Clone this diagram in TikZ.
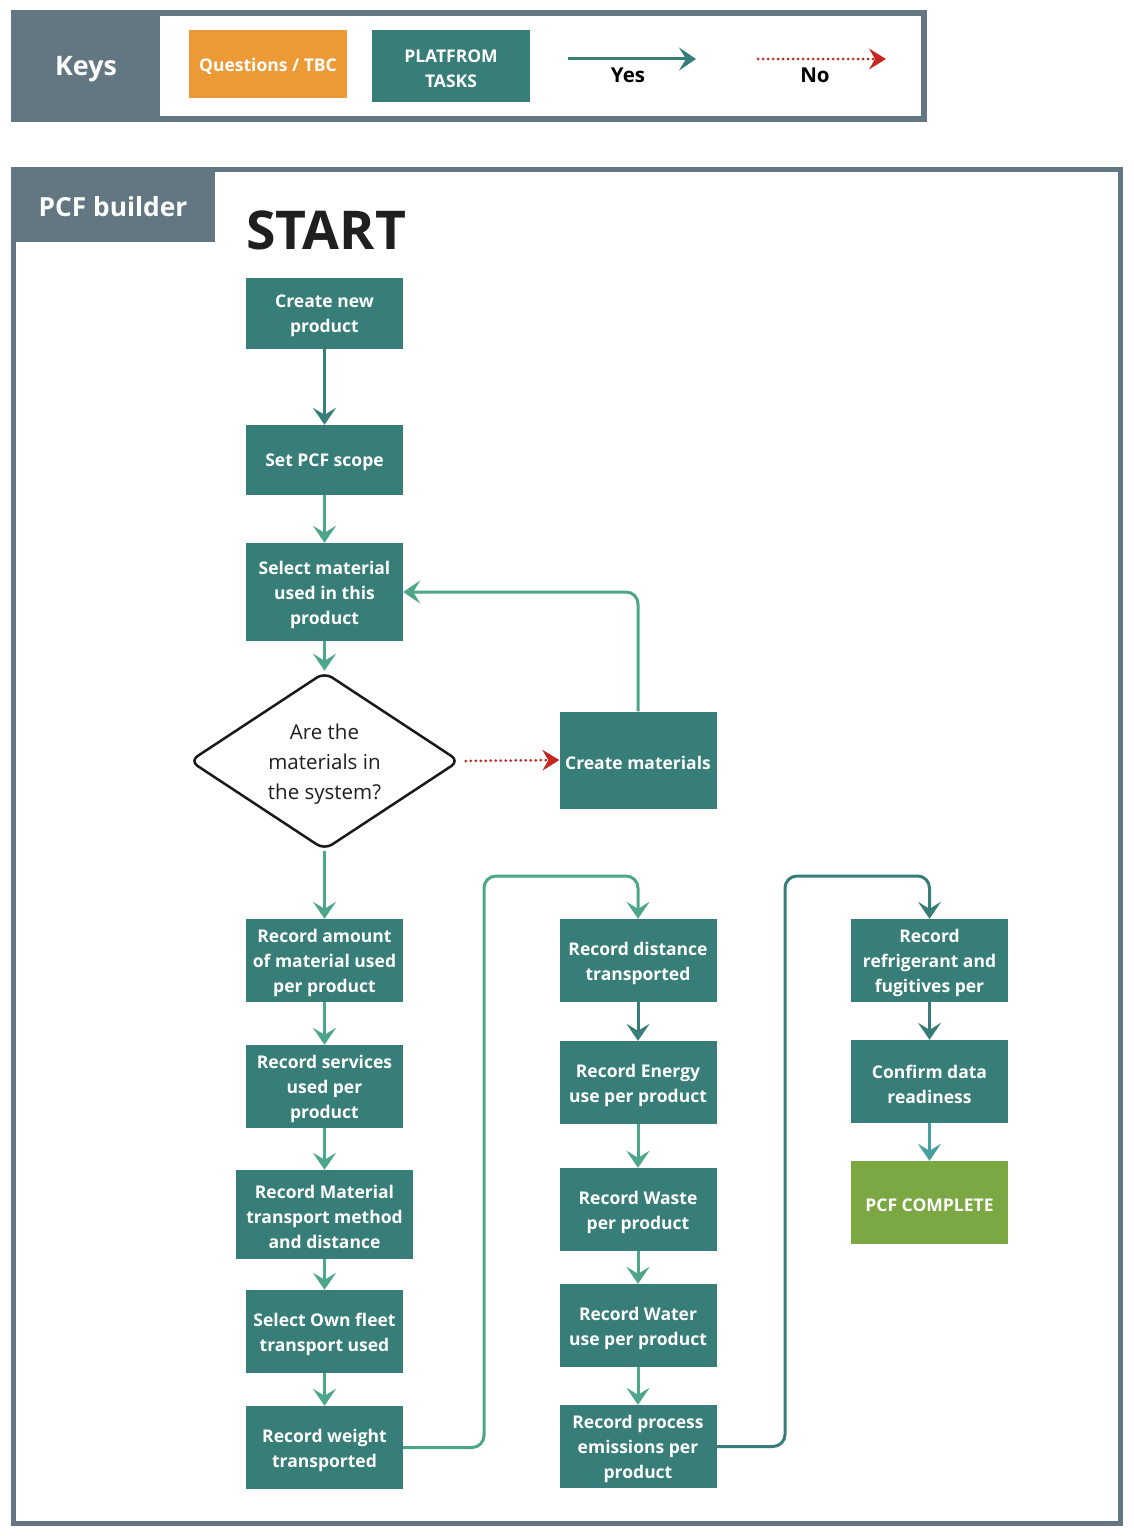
\documentclass[tikz,border=0pt]{standalone}
\usepackage{fontspec}
\setmainfont{Open Sans}
\usetikzlibrary{arrows.meta,shapes.geometric}
\definecolor{teal}{HTML}{377D78}
\definecolor{lgreen}{HTML}{4DA68A}
\definecolor{cyanarr}{HTML}{45A0A0}
\definecolor{orangebox}{HTML}{EC9A36}
\definecolor{greenbox}{HTML}{7BA842}
\definecolor{greyc}{HTML}{637783}
\definecolor{redarr}{HTML}{C4271F}
\tikzset{
  task/.style={fill=teal, inner sep=0pt, minimum width=157pt, minimum height=83pt},
  tasktxt/.style={text=white, font=\fontsize{17.5}{25}\selectfont\bfseries, align=center, inner sep=0pt},
  tip/.style={-{Stealth[length=17pt,width=23pt,inset=7pt]}},
  yesarr/.style={tip, draw=lgreen, line width=3pt, rounded corners=12pt},
  darkarr/.style={tip, draw=teal, line width=3pt, rounded corners=12pt},
  noarr/.style={-{Stealth[length=17pt,width=21pt,inset=6pt,line width=0pt]}, draw=redarr, line width=3pt, line cap=round, dash pattern=on 0pt off 5pt, color=redarr},
  keylabel/.style={font=\fontsize{20.5}{24}\selectfont\bfseries, text=black}
}
\newcommand\tasknode[4][]{%
  \node[task,#1] (#2) at (#3) {};
  \node[tasktxt] (#2-t) at ([yshift=-2.5pt]#2.center) {#4};
}
\begin{document}
\begin{tikzpicture}[x=1pt,y=-1pt]
\useasboundingbox (0,0) rectangle (1134,1536);
\fill[white] (0,0) rectangle (1134,1536);
% Keys panel
\fill[greyc] (11,10) rectangle (927,122);
\fill[white] (160,16) rectangle (921,116);
\node[text=white, font=\fontsize{26.8}{30}\selectfont\bfseries] (keys) at (86,69) {Keys};
\node[fill=orangebox, minimum width=158pt, minimum height=68pt, inner sep=0pt] (kq) at (268,64) {};
\node[text=white, font=\fontsize{17.5}{20}\selectfont\bfseries, inner sep=0pt] (kq-t) at (268,66.5) {Questions / TBC};
\node[fill=teal, minimum width=158pt, minimum height=72pt, inner sep=0pt] (kp) at (451,66) {};
\node[text=white, font=\fontsize{17.5}{25}\selectfont\bfseries, align=center, inner sep=0pt] (kp-t) at (451,68.5) {PLATFROM\\TASKS};
\coordinate (ya) at (568,59);
\coordinate (yb) at (696,59);
\draw[tip, draw=teal, line width=3pt] (ya) -- (yb);
\node[keylabel] (yes) at (628,75) {Yes};
\coordinate (na) at (758,59);
\coordinate (nb) at (886,59);
\draw[noarr] (na) -- (nb);
\node[keylabel] (no) at (815,75) {No};
% PCF builder frame
\draw[greyc, line width=5pt] (13.5,169.5) rectangle (1120.5,1523.5);
\fill[greyc] (11,167) rectangle (215,242);
\node[text=white, font=\fontsize{26.3}{30}\selectfont\bfseries] (pcfb) at (113,207) {PCF builder};
\node[anchor=west, font=\fontsize{53.5}{60}\selectfont\bfseries, text=black!88, inner sep=0pt] (start) at (246,230) {START};
% nodes
\tasknode[minimum height=71pt]{n1}{324.5,313.5}{Create new\\product}
\tasknode[minimum height=70pt]{n2}{324.5,460}{Set PCF scope}
\tasknode[minimum height=98pt]{n3}{324.5,592}{Select material\\used in this\\product}
\node[diamond, draw=black!90, line width=2.5pt, rounded corners=9pt, aspect=1.51, minimum width=270pt, minimum height=178pt, inner sep=0pt] (d) at (324.5,761) {};
\node[align=center, font=\fontsize{20.5}{30}\selectfont, text=black!88, inner sep=0pt] (d-t) at (324.5,764) {Are the\\materials in\\the system?};
\tasknode[minimum height=97pt]{cm}{638,760}{Create materials}
\tasknode{a1}{324.5,960.5}{Record amount\\of material used\\per product}
\tasknode{a2}{324.5,1086.5}{Record services\\used per\\product}
\tasknode[minimum width=177pt, minimum height=89pt]{a3}{324.5,1214.5}{Record Material\\transport method\\and distance}
\tasknode{a4}{324.5,1331.5}{Select Own fleet\\transport used}
\tasknode{a5}{324.5,1447.5}{Record weight\\transported}
\tasknode{b1}{638,960.5}{Record distance\\transported}
\tasknode{b2}{638,1082.5}{Record Energy\\use per product}
\tasknode{b3}{638,1209.5}{Record Waste\\per product}
\tasknode{b4}{638,1325.5}{Record Water\\use per product}
\tasknode{b5}{638,1446.5}{Record process\\emissions per\\product}
\tasknode{c1}{929.5,960.5}{Record\\refrigerant and\\fugitives per}
\tasknode{c2}{929.5,1081.5}{Confirm data\\readiness}
\tasknode[fill=greenbox]{c3}{929.5,1202.5}{PCF COMPLETE}
% connectors
\draw[darkarr] (n1) -- (n2);
\draw[yesarr] (n2) -- (n3);
\draw[yesarr] (n3) -- (d);
\draw[noarr] ([xshift=5pt]d.east) -- (cm.west);
\draw[yesarr] (cm.north) |- (n3.east);
\draw[yesarr] (d) -- (a1);
\draw[yesarr] (a1) -- (a2);
\draw[yesarr] (a2) -- (a3);
\draw[yesarr] (a3) -- (a4);
\draw[yesarr] (a4) -- (a5);
\draw[yesarr] (a5.east) -- (484,1447.5) -- (484,876) -- (638,876) -- (b1.north);
\draw[darkarr] (b1) -- (b2);
\draw[yesarr] (b2) -- (b3);
\draw[yesarr] (b3) -- (b4);
\draw[yesarr] (b4) -- (b5);
\draw[darkarr] (b5.east) -- (785,1446.5) -- (785,876) -- (929.5,876) -- (c1.north);
\draw[darkarr] (c1) -- (c2);
\draw[tip, draw=cyanarr, line width=3pt] (c2) -- (c3);
\end{tikzpicture}
\end{document}
